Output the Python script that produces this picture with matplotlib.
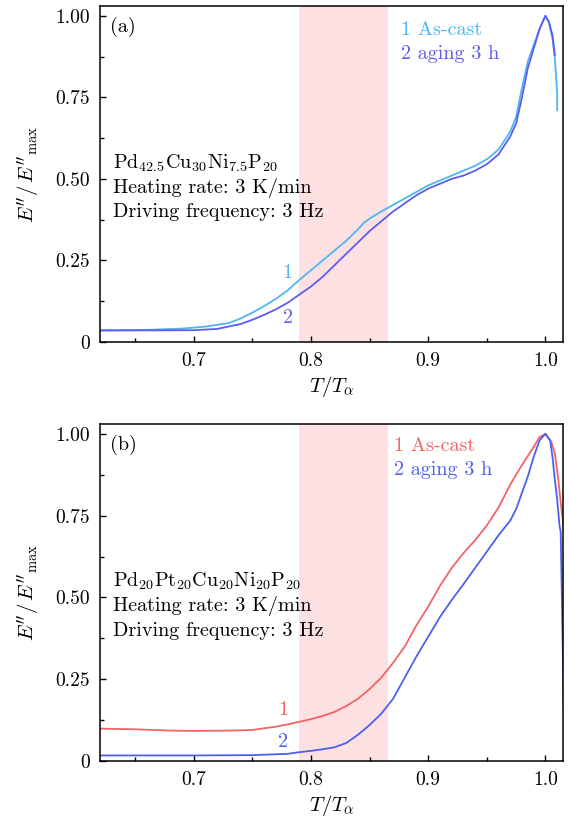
import matplotlib
matplotlib.use("Agg")
import matplotlib.pyplot as plt
from matplotlib.ticker import MultipleLocator

plt.rcParams['font.family'] = 'serif'
plt.rcParams['font.serif'] = ['cmr10', 'DejaVu Serif']
plt.rcParams['mathtext.fontset'] = 'cm'
plt.rcParams['axes.formatter.use_mathtext'] = True

# panel (a): Pd42.5Cu30Ni7.5P20
a1_t = [0.62, 0.66, 0.69, 0.71, 0.73, 0.74, 0.75, 0.76, 0.77, 0.78, 0.79, 0.80, 0.81, 0.82,
        0.83, 0.84, 0.845, 0.85, 0.86, 0.87, 0.88, 0.89, 0.90, 0.91, 0.92, 0.93, 0.94, 0.95,
        0.96, 0.97, 0.975, 0.98, 0.985, 0.99, 0.995, 1.0, 1.003, 1.006, 1.008, 1.009, 1.010, 1.010]
a1_y = [0.036, 0.037, 0.041, 0.047, 0.058, 0.072, 0.090, 0.110, 0.132, 0.158, 0.19, 0.22, 0.25, 0.28,
        0.31, 0.345, 0.365, 0.378, 0.40, 0.42, 0.44, 0.46, 0.48, 0.495, 0.51, 0.525, 0.54, 0.56,
        0.59, 0.645, 0.69, 0.78, 0.86, 0.91, 0.96, 1.0, 0.98, 0.93, 0.87, 0.82, 0.76, 0.71]
a2_t = [0.62, 0.70, 0.72, 0.74, 0.75, 0.76, 0.77, 0.78, 0.79, 0.80, 0.81, 0.82, 0.83, 0.84,
        0.85, 0.86, 0.87, 0.88, 0.89, 0.90, 0.91, 0.92, 0.93, 0.94, 0.95, 0.96, 0.97, 0.975,
        0.98, 0.985, 0.99, 0.995, 1.0, 1.003, 1.006, 1.008]
a2_y = [0.035, 0.036, 0.040, 0.055, 0.068, 0.083, 0.100, 0.120, 0.145, 0.17, 0.20, 0.235, 0.27, 0.305,
        0.34, 0.37, 0.40, 0.425, 0.45, 0.47, 0.485, 0.50, 0.51, 0.525, 0.545, 0.575, 0.63, 0.67,
        0.75, 0.84, 0.90, 0.96, 1.0, 0.98, 0.94, 0.88]

# panel (b): Pd20Pt20Cu20Ni20P20
b1_t = [0.62, 0.65, 0.68, 0.70, 0.73, 0.75, 0.77, 0.78, 0.79, 0.80, 0.81, 0.82, 0.83, 0.84,
        0.85, 0.86, 0.87, 0.88, 0.89, 0.90, 0.91, 0.92, 0.93, 0.94, 0.95, 0.96, 0.97, 0.98,
        0.99, 0.995, 1.0, 1.005, 1.008, 1.011, 1.013, 1.016]
b1_y = [0.099, 0.097, 0.093, 0.092, 0.093, 0.095, 0.105, 0.112, 0.12, 0.128, 0.138, 0.15, 0.168, 0.19,
        0.22, 0.255, 0.30, 0.35, 0.415, 0.472, 0.535, 0.59, 0.635, 0.675, 0.72, 0.775, 0.845, 0.905,
        0.96, 0.99, 1.0, 0.975, 0.94, 0.86, 0.79, 0.70]
b2_t = [0.62, 0.70, 0.75, 0.78, 0.79, 0.80, 0.81, 0.82, 0.83, 0.84, 0.85, 0.86, 0.87, 0.88,
        0.89, 0.90, 0.91, 0.92, 0.93, 0.94, 0.95, 0.96, 0.97, 0.975, 0.98, 0.985, 0.99, 0.995,
        1.0, 1.004, 1.006, 1.008, 1.010, 1.012, 1.013, 1.014, 1.016, 1.017]
b2_y = [0.017, 0.017, 0.018, 0.022, 0.027, 0.031, 0.036, 0.042, 0.055, 0.08, 0.11, 0.145, 0.19, 0.255,
        0.32, 0.38, 0.44, 0.492, 0.54, 0.59, 0.64, 0.69, 0.735, 0.77, 0.82, 0.87, 0.93, 0.98,
        1.0, 0.98, 0.93, 0.86, 0.80, 0.72, 0.70, 0.50, 0.10, 0.0]

shade = (0.79, 0.866)
x_ticks = [0.7, 0.8, 0.9, 1.0]
y_ticks = [0, 0.25, 0.50, 0.75, 1.00]
y_tick_labels = ['0', '0.25', '0.50', '0.75', '1.00']

panels = [
    dict(pos=[0.1757, 0.5845, 0.8138, 0.4082], tag='(a)',
         alloy=r'Pd$_{42.5}$Cu$_{30}$Ni$_{7.5}$P$_{20}$',
         curves=[(a1_t, a1_y, '#4db6f7'), (a2_t, a2_y, '#5c5cf0')],
         num_pos=[(0.780, 0.21), (0.780, 0.072)], leg_x=0.8766, leg_y=[0.956, 0.882]),
    dict(pos=[0.1757, 0.0753, 0.8138, 0.4095], tag='(b)',
         alloy=r'Pd$_{20}$Pt$_{20}$Cu$_{20}$Ni$_{20}$P$_{20}$',
         curves=[(b1_t, b1_y, '#f26464'), (b2_t, b2_y, '#4d5ff2')],
         num_pos=[(0.776, 0.155), (0.776, 0.058)], leg_x=0.871, leg_y=[0.964, 0.89]),
]

fs = 14.5

fig = plt.figure(figsize=(5.69, 8.23), dpi=100)

for p in panels:
    ax = fig.add_axes(p['pos'])
    ax.axvspan(shade[0], shade[1], color='#fde0e1', lw=0, zorder=0)
    for (t, y, c) in p['curves']:
        ax.plot(t, y, color=c, lw=1.3, zorder=2)
    ax.set_xlim(0.62, 1.015)
    ax.set_ylim(0, 1.03)
    ax.set_xticks(x_ticks)
    ax.set_xticklabels(['0.7', '0.8', '0.9', '1.0'])
    ax.set_yticks(y_ticks)
    ax.set_yticklabels(y_tick_labels)
    ax.xaxis.set_minor_locator(MultipleLocator(0.05))
    ax.yaxis.set_minor_locator(MultipleLocator(0.125))
    ax.tick_params(which='both', direction='in', top=False, right=False, labelsize=14, pad=7)
    ax.tick_params(which='major', length=4.5, width=1)
    ax.tick_params(which='minor', length=3, width=1)
    for s in ax.spines.values():
        s.set_linewidth(1.1)
    ax.set_xlabel(r'$T/T_\alpha$', fontsize=15, labelpad=3)
    ax.set_ylabel(r"$E''/\,E''_{\rm max}$", fontsize=15, labelpad=10)

    ax.text(0.6285, 0.965, p['tag'], fontsize=fs, va='center', ha='left')
    ax.text(0.631, 0.548, p['alloy'], fontsize=fs, va='center', ha='left')
    ax.text(0.631, 0.473, 'Heating rate: 3 K/min', fontsize=fs, va='center', ha='left')
    ax.text(0.631, 0.397, 'Driving frequency: 3 Hz', fontsize=fs, va='center', ha='left')

    c1 = p['curves'][0][2]
    c2 = p['curves'][1][2]
    ax.text(p['num_pos'][0][0], p['num_pos'][0][1], '1', color=c1, fontsize=fs, ha='center', va='center')
    ax.text(p['num_pos'][1][0], p['num_pos'][1][1], '2', color=c2, fontsize=fs, ha='center', va='center')
    ax.text(p['leg_x'], p['leg_y'][0], '1 As-cast', color=c1, fontsize=fs, ha='left', va='center')
    ax.text(p['leg_x'], p['leg_y'][1], '2 aging 3 h', color=c2, fontsize=fs, ha='left', va='center')

fig.savefig('out.png', dpi=100)
